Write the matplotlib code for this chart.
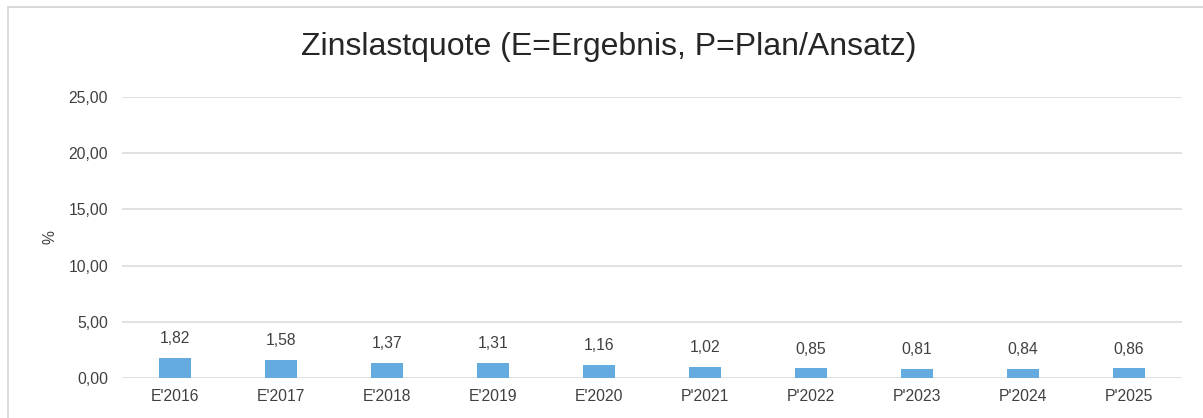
import matplotlib
matplotlib.use("Agg")
import matplotlib.pyplot as plt
from matplotlib.patches import Rectangle
from matplotlib.ticker import FixedLocator, FuncFormatter

categories = ["E'2016", "E'2017", "E'2018", "E'2019", "E'2020",
              "P'2021", "P'2022", "P'2023", "P'2024", "P'2025"]
values = [1.82, 1.58, 1.37, 1.31, 1.16, 1.02, 0.85, 0.81, 0.84, 0.86]
y_ticks = [0, 5, 10, 15, 20, 25]

plt.rcParams['font.family'] = ['Liberation Sans', 'DejaVu Sans']

W, H = 1203, 418
fig = plt.figure(figsize=(W / 100, H / 100), dpi=100)
ax = fig.add_axes([122 / W, 40 / H, (1182 - 122) / W, (378 - 97) / H])

x = list(range(len(categories)))
bars = ax.bar(x, values, width=0.31, color="#64acdf", zorder=3)

ax.set_xlim(-0.5, len(categories) - 0.5)
ax.set_ylim(0, 25)
ax.yaxis.set_major_locator(FixedLocator(y_ticks))
ax.yaxis.set_major_formatter(FuncFormatter(lambda v, p: f"{v:.2f}".replace(".", ",")))
ax.set_xticks(x)
ax.set_xticklabels(categories)

ax.grid(axis="y", color="#d9d9d9", linewidth=1.1, zorder=0)
for s in ax.spines.values():
    s.set_visible(False)
ax.tick_params(axis="both", length=0, labelsize=11.3, colors="#404040")
ax.tick_params(axis="x", pad=8)
ax.tick_params(axis="y", pad=10)

for b, v in zip(bars, values):
    ax.annotate(f"{v:.2f}".replace(".", ","),
                xy=(b.get_x() + b.get_width() / 2, v),
                xytext=(0, 8.5), textcoords="offset points",
                ha="center", va="bottom", fontsize=11.3, color="#404040")

ax.set_ylabel("%", fontsize=11.3, color="#404040", labelpad=8)

fig.text(609 / W, 1 - 47 / H, "Zinslastquote (E=Ergebnis, P=Plan/Ansatz)",
         ha="center", va="center", fontsize=23, color="#262626")

# outer chart frame
fig.patches.append(Rectangle((7.5 / W, -0.1), 1.2, 1.1 - 6.5 / H,
                             transform=fig.transFigure, fill=False,
                             edgecolor="#d9d9d9", linewidth=1.4, clip_on=False))

fig.savefig("out.png", dpi=100, facecolor="white")
